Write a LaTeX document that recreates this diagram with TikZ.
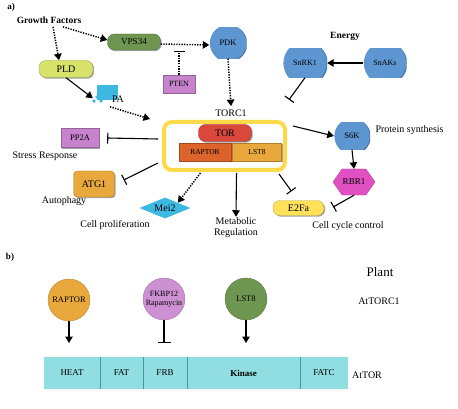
\documentclass[tikz,border=0pt]{standalone}
\usepackage{fontspec}
\setmainfont{Liberation Serif}
\usetikzlibrary{arrows.meta,shapes.geometric,shapes.symbols,shadows}
\definecolor{leaf}{HTML}{6F9650}
\definecolor{limey}{HTML}{D6E26A}
\definecolor{sky}{HTML}{5E96D1}
\definecolor{cyanpa}{HTML}{3DB8E0}
\definecolor{lilac}{HTML}{C784CD}
\definecolor{torred}{HTML}{D9483B}
\definecolor{rust}{HTML}{DC6329}
\definecolor{amber}{HTML}{E9A83C}
\definecolor{gold}{HTML}{FDD94A}
\definecolor{lemon}{HTML}{FFE15A}
\definecolor{pinkish}{HTML}{E150C2}
\definecolor{aqua}{HTML}{90DEE2}
\definecolor{deepaqua}{HTML}{3A9CA0}
\tikzset{
  every node/.style={font=\fontsize{10}{11}\selectfont},
  prot/.style={fill=#1,draw=#1!75!black,line width=.4pt,inner sep=1pt,
    drop shadow={shadow xshift=1.2pt,shadow yshift=-1.2pt,fill=black!60,opacity=.6}},
  pill/.style={prot=#1,rounded corners=7pt},
  kinase/.style 2 args={minimum width=#1pt,minimum height=#2pt,inner sep=0pt,
    path picture={\fill[sky!80!black] ([xshift=.8pt,yshift=-.6pt]path picture bounding box.center) circle[radius=#1pt/2];
      \fill[sky] (path picture bounding box.center) circle[radius=#1pt/2-.4pt];}},
  act/.style={-{Triangle[width=7.5pt,length=6.5pt]},line width=1.1pt},
  dotact/.style={act,line width=1.5pt,dash pattern=on 1.3pt off 1.3pt},
  inh/.style={-{Bar[width=11pt,line width=1.1pt]},line width=1.1pt},
  disc/.style={circle,fill=#1,draw=#1!80!black,minimum size=42pt,inner sep=0pt},
  seg/.style={fill=aqua,minimum height=32pt,inner sep=0pt,font=\fontsize{9}{10}\selectfont},
}

\begin{document}
\begin{tikzpicture}[x=1pt,y=-1pt]
\useasboundingbox (0,0) rectangle (458,409);
% a) the pathway
\node[font=\bfseries\fontsize{9}{10}\selectfont] (lbla) at (11,7) {a)};
\node[font=\bfseries\fontsize{9.5}{11}\selectfont] (gf) at (49,20) {Growth Factors};
\node[pill=leaf,minimum width=53pt,minimum height=16pt,font=\fontsize{9}{10}\selectfont] (vps) at (134,42) {VPS34};
\node[pill=limey,minimum width=54pt,minimum height=17pt] (pld) at (66,69) {PLD};
\node[fill=cyanpa,minimum width=21pt,minimum height=15pt,inner sep=0pt] (pa) at (107.5,92.5) {};
\foreach \x/\y in {94/101,97/97,101/101} \fill[cyanpa] (\x,\y) circle[radius=1.8pt];
\node (palbl) at (118,99) {PA};
\node[prot=lilac,minimum width=32pt,minimum height=18pt,font=\fontsize{8}{9}\selectfont] (pten) at (179,84) {PTEN};
\node[kinase={37}{31},font=\fontsize{8.5}{10}\selectfont] (pdk) at (228,43) {PDK};
\node (torclbl) at (231,113) {TORC1};
\node[font=\bfseries\fontsize{9.5}{11}\selectfont] (energy) at (345,36) {Energy};
\node[kinase={44}{29},font=\fontsize{8}{9}\selectfont] (snrk) at (305,63) {SnRK1};
\node[kinase={43}{29},font=\fontsize{8}{9}\selectfont] (snaks) at (385,63) {SnAKs};

% TORC1 complex
\node[draw=gold,line width=4pt,rounded corners=8pt,minimum width=121pt,minimum height=48pt] (torc) at (224.5,146) {};
\node[pill=torred,minimum width=53pt,minimum height=17pt] (tor) at (225,133) {TOR};
\node[prot=rust,minimum width=52pt,minimum height=18pt,font=\fontsize{7.5}{9}\selectfont] (raptor) at (205,152) {RAPTOR};
\node[prot=amber,minimum width=49pt,minimum height=18pt,font=\fontsize{7.5}{9}\selectfont] (lst) at (257,152) {LST8};

% targets
\node[prot=lilac,minimum width=38pt,minimum height=19pt,font=\fontsize{8.5}{10}\selectfont] (pp2a) at (80,138) {PP2A};
\node (stress) at (45,156) {Stress Response};
\node[prot=amber,rounded corners=4pt,minimum width=41pt,minimum height=26pt] (atg) at (94,184) {ATG1};
\node (autoph) at (64,201) {Autophagy};
\node[diamond,aspect=2.4,fill=cyanpa,inner sep=0pt,minimum width=51pt,minimum height=21pt] (mei) at (165,208) {Mei2};
\node (cellprol) at (115,225) {Cell proliferation};
\node[align=center,inner sep=1pt] (metab) at (236,228) {Metabolic\\Regulation};
\node[pill=lemon,minimum width=51pt,minimum height=15pt] (e2fa) at (298.5,208) {E2Fa};
\node (cellcyc) at (348,226) {Cell cycle control};
\node[kinase={36}{27},font=\fontsize{8.5}{10}\selectfont] (s6k) at (352,136) {S6K};
\node[anchor=west] (protsyn) at (372,130) {Protein synthesis};
\node[signal,signal to=east and west,signal pointer angle=110,fill=pinkish,draw=pinkish!80!black,
  minimum width=42pt,minimum height=26pt,inner sep=0pt,font=\fontsize{9}{10}\selectfont] (rbr) at (354,182) {RBR1};

% connectors
\draw[dotact] ([xshift=4pt]gf.south) -- ([xshift=-7pt]pld.north);
\draw[dotact] ([xshift=14pt]gf.south) -- ([yshift=2pt]vps.west);
\draw[dotact] ([yshift=-2pt]vps.east) -- ([yshift=-2pt]pdk.west);
\draw[inh,line width=1.5pt,dash pattern=on 1.3pt off 1.3pt] (pten.north) -- ++(0,-24);
\draw[dotact] (pdk.south) -- (torclbl.north);
\draw[act] (pld.south) -- ([xshift=-4pt,yshift=2pt]pa.south west);
\draw[dotact] ([xshift=-8pt,yshift=-1pt]palbl.south) -- ([xshift=-12pt,yshift=1pt]torc.north west);
\draw[act] (snaks.west) -- (snrk.east);
\draw[inh] (snrk.south) -- ++(-16,22);
\draw[inh] ([xshift=-4pt,yshift=7pt]torc.west) -- ([xshift=8pt]pp2a.east);
\draw[inh] ([xshift=-4pt,yshift=-17pt]torc.west) -- ([xshift=9pt,yshift=4pt]atg.east);
\draw[dotact] ([xshift=-24pt,yshift=-1pt]torc.south) -- (mei.north east);
\draw[act] ([xshift=12pt,yshift=-1pt]torc.south) -- (metab.north);
\draw[inh] ([xshift=-8pt,yshift=-2pt]torc.south east) -- ([xshift=-7pt,yshift=9pt]e2fa.north);
\draw[act] ([xshift=6pt,yshift=20pt]torc.east) -- (s6k.west);
\draw[act] (s6k.south) -- (rbr.north);
\draw[inh] (rbr.south) -- ([xshift=9pt,yshift=1pt]e2fa.east);

% b) domains of AtTOR
\node[font=\bfseries\fontsize{9}{10}\selectfont] (lblb) at (10,257) {b)};
\node[font=\fontsize{13}{15}\selectfont] (plant) at (380,272) {Plant};
\node (attorc) at (379,301) {AtTORC1};
\node[disc=amber,font=\fontsize{8.5}{10}\selectfont] (rap2) at (69,300) {RAPTOR};
\node[disc=lilac!90!white,align=center,font=\fontsize{8}{9}\selectfont] (fkbp) at (164,299) {FKBP12\\Rapamycin};
\node[disc=leaf,font=\fontsize{8.5}{10}\selectfont] (lst2) at (246,299) {LST8};
\node[seg,minimum width=56pt] (heat) at (72,373) {HEAT};
\node[seg,minimum width=43pt] (fat) at (121.5,373) {FAT};
\node[seg,minimum width=44pt] (frb) at (165,373) {FRB};
\node[seg,minimum width=113pt,font=\bfseries\fontsize{9}{10}\selectfont] (kin) at (243.5,373) {Kinase};
\node[seg,minimum width=48pt] (fatc) at (324,373) {FATC};
\foreach \s in {heat,fat,frb,kin}
  \draw[deepaqua,line width=1pt] (\s.north east) -- (\s.south east);
\node (attor) at (367,375) {AtTOR};
\coordinate (heatin) at (69,343);
\coordinate (frbin) at (164,343);
\coordinate (kinin) at (246,343);
\draw[act] (rap2.south) -- (heatin);
\draw[inh,-{Bar[width=13pt,line width=1.1pt]}] (fkbp.south) -- (frbin);
\draw[act] (lst2.south) -- (kinin);
\end{tikzpicture}
\end{document}
